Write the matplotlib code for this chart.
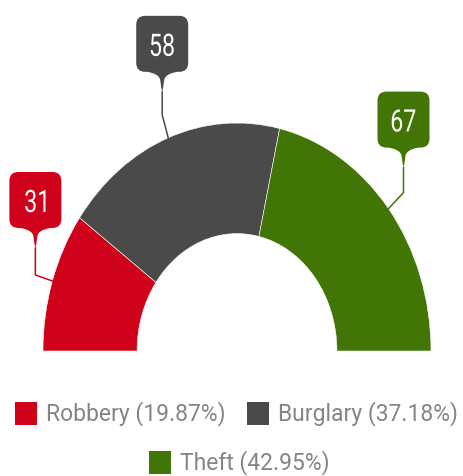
import matplotlib
matplotlib.use("Agg")
import numpy as np
import matplotlib.pyplot as plt
from matplotlib.path import Path
from matplotlib.patches import PathPatch, Rectangle
from matplotlib.textpath import TextPath
from matplotlib.font_manager import FontProperties
from matplotlib.transforms import Affine2D

# data
categories = ["Robbery", "Burglary", "Theft"]
values = [31, 58, 67]
colors = ["#D0021B", "#4A4A4A", "#417505"]

total = sum(values)
percents = [v / total * 100 for v in values]

W, H = 464, 476
fig = plt.figure(figsize=(W / 100, H / 100), dpi=100)
ax = fig.add_axes([0, 0, 1, 1])

# half donut: visible wedges + an invisible lower half
wedges, _ = ax.pie(values + [total], colors=colors + ["none"], startangle=180,
                   counterclock=False, radius=1.0,
                   wedgeprops=dict(width=0.485, edgecolor="white", linewidth=0.4))
wedges[-1].set_edgecolor("none")
ax.set_aspect("auto")
ax.set_xlim(-1.2216, 1.1701)
ax.set_ylim(-0.5482, 1.5395)
ax.axis("off")

# overlay in pixel coordinates (y down) for callouts + legend
ov = fig.add_axes([0, 0, 1, 1], zorder=5)
ov.set_xlim(0, W)
ov.set_ylim(H, 0)
ov.axis("off")
ov.patch.set_alpha(0)

num_fp = FontProperties(family="Roboto")


def narrow_text(cx, cy, s, size=31, squeeze=0.75):
    tp = TextPath((0, 0), s, size=size, prop=num_fp)
    ext = tp.get_extents()
    tr = (Affine2D().translate(-(ext.x0 + ext.x1) / 2, -(ext.y0 + ext.y1) / 2)
          .scale(squeeze, -1).translate(cx, cy))
    ov.add_patch(PathPatch(tr.transform_path(tp), facecolor="white",
                           edgecolor="none", zorder=6))


def callout(tx, ty, text, color, w=52, b=56, p=20, r=9, hw=15):
    bot = ty - p
    top = bot - b
    L, R = tx - w / 2, tx + w / 2
    verts = [
        (L + r, top), (R - r, top),
        (R, top), (R, top + r),
        (R, bot - r),
        (R, bot), (R - r, bot),
        (tx + hw, bot),
        (tx + 3, bot + 2), (tx + 2, bot + 8),
        (tx + 1, ty - 3), (tx, ty),
        (tx - 1, ty - 3), (tx - 2, bot + 8),
        (tx - 3, bot + 2), (tx - hw, bot),
        (L + r, bot),
        (L, bot), (L, bot - r),
        (L, top + r),
        (L, top), (L + r, top),
    ]
    codes = [Path.MOVETO, Path.LINETO,
             Path.CURVE3, Path.CURVE3,
             Path.LINETO,
             Path.CURVE3, Path.CURVE3,
             Path.LINETO,
             Path.CURVE3, Path.CURVE3,
             Path.CURVE3, Path.CURVE3,
             Path.CURVE3, Path.CURVE3,
             Path.CURVE3, Path.CURVE3,
             Path.LINETO,
             Path.CURVE3, Path.CURVE3,
             Path.LINETO,
             Path.CURVE3, Path.CURVE3]
    ov.add_patch(PathPatch(Path(verts, codes), facecolor=color, edgecolor="none"))
    narrow_text(tx, top + b / 2 + 1, text)


# (elbow offset, tip offset) in pixels from the wedge anchor
offsets = [((-17, -6), (-17, -33)),
           ((-6, -23), (-6, -46)),
           ((15, -16), (15, -41))]

inv = ov.transData.inverted()
for wdg, val, col, (el, tp) in zip(wedges, values, colors, offsets):
    mid = np.deg2rad((wdg.theta1 + wdg.theta2) / 2)
    ax_, ay_ = inv.transform(ax.transData.transform((np.cos(mid), np.sin(mid))))
    ex, ey = ax_ + el[0], ay_ + el[1]
    tx, ty = ax_ + tp[0], ay_ + tp[1]
    ov.plot([ax_, ex, tx], [ay_, ey, ty], color=col, lw=1.1, zorder=1)
    callout(tx, ty, str(val), col)

# legend
leg_pos = [(15, 413), (247, 413), (149, 462)]
for (lx, ly), cat, pc, col in zip(leg_pos, categories, percents, colors):
    ov.add_patch(Rectangle((lx, ly - 11), 22, 23, facecolor=col, edgecolor="none"))
    ov.text(lx + 31, ly + 1, f"{cat} ({pc:.2f}%)", ha="left", va="center",
            color="#858585", fontsize=16.5, family=["Roboto", "DejaVu Sans"])

fig.savefig("out.png", dpi=100, facecolor="white")
